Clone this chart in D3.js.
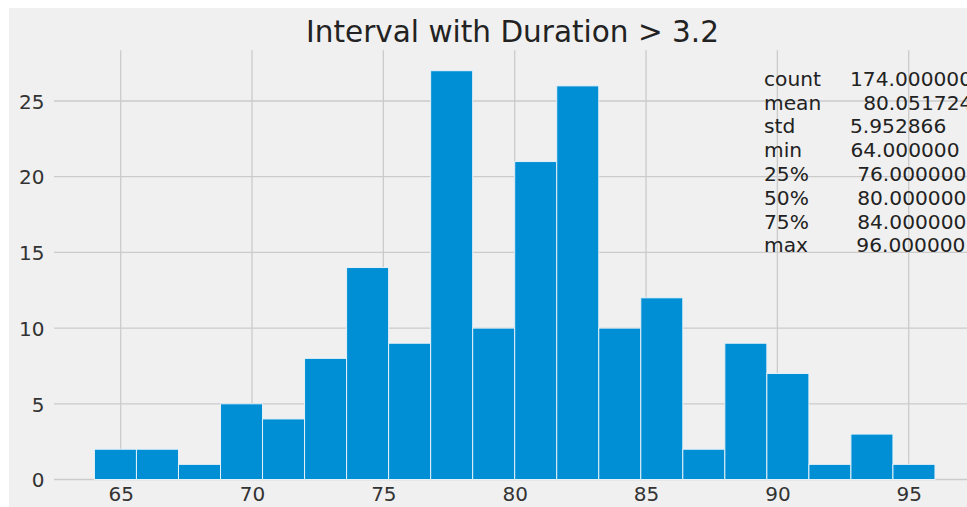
<!DOCTYPE html>
<html>
<head>
<meta charset="utf-8">
<script src="https://cdn.jsdelivr.net/npm/d3@7"></script>
<style>
  html, body { margin: 0; padding: 0; background: #ffffff; }
  svg { display: block; }
  text { font-family: "DejaVu Sans", sans-serif; }
</style>
</head>
<body>
<svg id="chart" width="967" height="507"></svg>
<script>
// Histogram of intervals (minutes) for eruptions lasting longer than 3.2 min
const binStart = 64;
const binWidth = 1.6;
const binCounts = [2, 2, 1, 5, 4, 8, 14, 9, 27, 10, 21, 26, 10, 12, 2, 9, 7, 1, 3, 1];
const xTicks = [65, 70, 75, 80, 85, 90, 95];
const yTicks = [0, 5, 10, 15, 20, 25];
const titleText = "Interval with Duration > 3.2";
// pandas describe() summary: row labels and formatted values
const summaryNames = ["count", "mean", "std", "min", "25%", "50%", "75%", "max"];
const summaryValues = ["174.000000", "80.051724", "5.952866", "64.000000",
                       "76.000000", "80.000000", "84.000000", "96.000000"];

const bins = binCounts.map((c, i) => ({
  x0: binStart + i * binWidth,
  x1: binStart + (i + 1) * binWidth,
  count: c
}));

// rebuild the fixed-width lines the way pandas prints them
const nameW = d3.max(summaryNames, s => s.length);
const valW = d3.max(summaryValues, s => s.length);
const summaryRows = summaryNames.map((n, i) => ({
  name: n,
  rest: " ".repeat(nameW - n.length + 4) + summaryValues[i].padStart(valW, " ")
}));

const svg = d3.select("#chart");
const W = 967, H = 507;

// figure background
svg.append("rect").attr("x", 9).attr("y", 8).attr("width", W - 9).attr("height", H - 8)
  .attr("fill", "#f0f0f0");

const xMin = binStart, xMax = binStart + binCounts.length * binWidth;
const xPad = (xMax - xMin) * 0.05;
const yMaxV = d3.max(binCounts) * 1.05;

const x = d3.scaleLinear().domain([xMin - xPad, xMax + xPad]).range([52.4, 977]);
const y = d3.scaleLinear().domain([0, yMaxV]).range([479.5, 479.5 - yMaxV * 15.14]);

const grid = svg.append("g");
grid.selectAll("line.v").data(xTicks).join("line")
  .attr("x1", d => x(d)).attr("x2", d => x(d))
  .attr("y1", y(yMaxV)).attr("y2", y(0))
  .attr("stroke", "#cbcbcb").attr("stroke-width", 1.3);
grid.selectAll("line.h").data(yTicks).join("line")
  .attr("x1", 54).attr("x2", W)
  .attr("y1", d => y(d)).attr("y2", d => y(d))
  .attr("stroke", "#cbcbcb").attr("stroke-width", 1.3);

// bars
svg.append("g").selectAll("rect").data(bins).join("rect")
  .attr("x", d => x(d.x0))
  .attr("width", d => x(d.x1) - x(d.x0))
  .attr("y", d => y(d.count))
  .attr("height", d => y(0) - y(d.count))
  .attr("fill", "#008fd5")
  .attr("stroke", "#e6f1f8")
  .attr("stroke-width", 1);

// axes (no tick marks, no domain line)
const xAxis = svg.append("g").attr("transform", `translate(0,${y(0)})`)
  .call(d3.axisBottom(x).tickValues(xTicks).tickSize(0).tickPadding(0));
xAxis.select(".domain").remove();
xAxis.selectAll("text").attr("font-size", 20).attr("fill", "#333333")
  .attr("font-family", "DejaVu Sans").attr("dy", null).attr("y", 21.8);

const yAxis = svg.append("g").attr("transform", `translate(44.5,0)`)
  .call(d3.axisLeft(y).tickValues(yTicks).tickSize(0).tickPadding(0));
yAxis.select(".domain").remove();
yAxis.selectAll("text").attr("font-size", 20).attr("fill", "#333333")
  .attr("font-family", "DejaVu Sans").attr("dy", "0.36em");

// title
svg.append("text")
  .attr("x", 512.5).attr("y", 42)
  .attr("text-anchor", "middle")
  .attr("font-size", 29.5)
  .attr("fill", "#222222")
  .text(titleText);

// summary statistics block
const summary = svg.append("text")
  .attr("x", 764).attr("y", 85.7)
  .attr("font-size", 20.2)
  .attr("fill", "#222222")
  .style("white-space", "pre");
summaryRows.forEach((r, i) => {
  summary.append("tspan")
    .attr("x", 764)
    .attr("dy", i === 0 ? 0 : 23.8)
    .text(r.name);
  summary.append("tspan")
    .attr("dx", 3.4)
    .text(r.rest);
});
</script>
</body>
</html>
